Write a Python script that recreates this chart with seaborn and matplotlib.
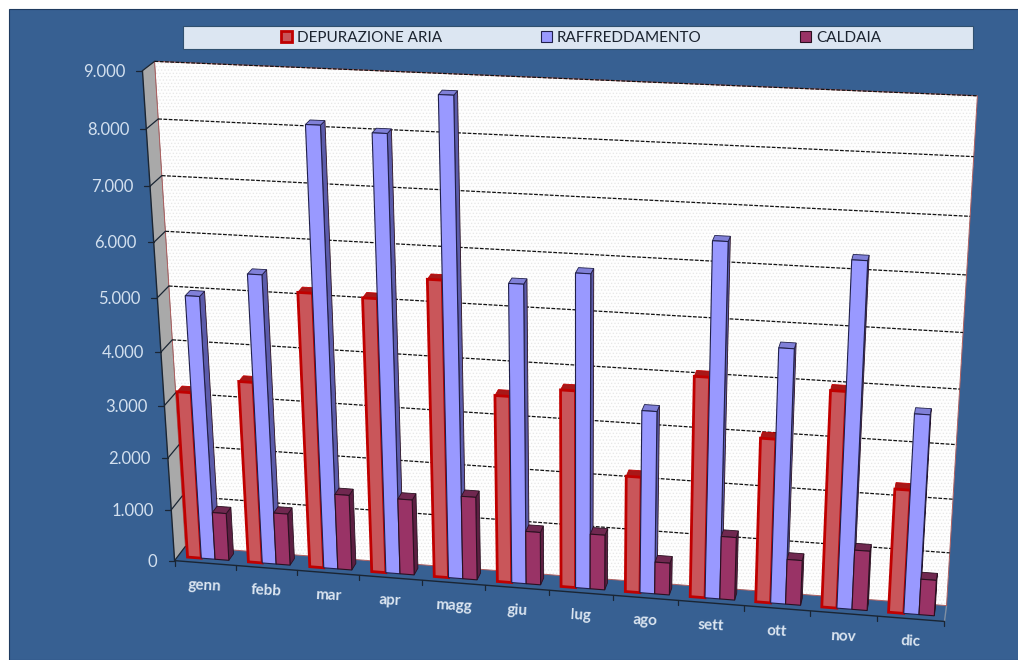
"""
3D-looking monthly column chart drawn with seaborn bars and a perspective transform.
"""

import matplotlib
matplotlib.use('Agg')
import matplotlib.pyplot as plt
import numpy as np
import pandas as pd
import seaborn as sns
from matplotlib.patches import Patch, Polygon, Rectangle
from matplotlib.transforms import Affine2D, Transform

W_PX, H_PX = 1018, 660

months = ['genn', 'febb', 'mar', 'apr', 'magg', 'giu', 'lug', 'ago', 'sett', 'ott', 'nov', 'dic']
series_names = ['DEPURAZIONE ARIA', 'RAFFREDDAMENTO', 'CALDAIA']
depurazione = [3200, 3470, 5180, 5150, 5550, 3520, 3700, 2190, 4100, 3060, 4000, 2300]
raffreddamento = [5000, 5460, 8150, 8060, 8760, 5560, 5810, 3420, 6500, 4700, 6300, 3680]
caldaia = [920, 1000, 1450, 1450, 1590, 1010, 1050, 610, 1190, 850, 1120, 670]
y_ticks = [0, 1000, 2000, 3000, 4000, 5000, 6000, 7000, 8000, 9000]

BLUE = '#376092'
FRONT = ['#c9565a', '#9999ff', '#993366']
EDGE = ['#c00000', '#20204a', '#2a1020']
SIDE = ['#8c1c1c', '#5c5cab', '#5c1f42']
CAP = ['#a81818', '#8080d8', '#702850']
EDGE_W = [2.0, 0.8, 0.8]

# where the corners of the chart box sit in the picture: (category, value, depth) -> pixel
BOX = [
    ((-0.5, 0, 0), (175, 560)), ((-0.5, 9000, 0), (142, 70)),
    ((11.5, 0, 0), (945, 622)), ((11.5, 9000, 0), (975, 107)),
    ((-0.5, 0, 1), (185, 547)), ((-0.5, 9000, 1), (155, 62)),
    ((11.5, 0, 1), (946, 605)), ((11.5, 9000, 1), (978, 95)),
]
BAR_W0, BAR_W1 = 0.30, 0.75


def fit_camera(box):
    rows = []
    for (x, v, w), (px, py) in box:
        p = [(x + 0.5) / 12, v / 9000, w, 1]
        rows.append(p + [0, 0, 0, 0] + [-px * c for c in p])
        rows.append([0, 0, 0, 0] + p + [-py * c for c in p])
    return np.linalg.svd(np.array(rows, dtype=float))[2][-1].reshape(3, 4)


CAMERA = fit_camera(BOX)


def project(x, v, w):
    x, v, w = [np.asarray(a, dtype=float) for a in (x, v, w)]
    p = np.stack([(x + 0.5) / 12, v / 9000, w, np.ones_like(x)], axis=-1)
    q = p @ CAMERA.T
    return q[..., :2] / q[..., 2:]


class DepthTransform(Transform):
    """Maps (category, value) on the plane at depth w to picture pixels."""
    input_dims = 2
    output_dims = 2
    is_separable = False
    has_inverse = False

    def __init__(self, w):
        super().__init__()
        self.w = w

    def transform_non_affine(self, values):
        values = np.asarray(values, dtype=float)
        return project(values[:, 0], values[:, 1], np.full(len(values), self.w))


sns.set_theme(style='white')
plt.rcParams['font.family'] = ['Lato', 'DejaVu Sans']
plt.rcParams['hatch.linewidth'] = 0.5

fig = plt.figure(figsize=(W_PX / 100, H_PX / 100), dpi=100, facecolor='white')
ax = fig.add_axes([0, 0, 1, 1])
ax.set_axis_off()

to_fig = Affine2D().scale(1 / W_PX, -1 / H_PX).translate(0, 1) + fig.transFigure
front_plane = DepthTransform(0) + to_fig
back_plane = DepthTransform(1) + to_fig
bar_plane = DepthTransform(BAR_W0) + to_fig


def add_poly(points, **kwargs):
    poly = Polygon(points, closed=True, transform=to_fig, clip_on=False, **kwargs)
    ax.add_patch(poly)
    return poly


# background
fig.patches.append(Rectangle((9 / W_PX, 0), 1, 1 - 9 / H_PX, transform=fig.transFigure,
                             facecolor=BLUE, edgecolor='#1f3a5f', lw=0.8, zorder=-5))

# legend band
fig.patches.append(Rectangle((183 / W_PX, 1 - 49 / H_PX), 790 / W_PX, 23 / H_PX,
                             transform=fig.transFigure, facecolor='#dce6f2',
                             edgecolor='#30506f', lw=0.8, zorder=-4))

# walls
corners = lambda x, w: project([x, x], [0, 9000], [w, w])
xl, xr = -0.5, 11.5
add_poly(np.vstack([corners(xl, 1), corners(xr, 1)[::-1]]), facecolor='#fefefe',
         edgecolor='#e6e6e6', hatch='.....', lw=0, zorder=1)
add_poly(np.vstack([corners(xl, 1), corners(xr, 1)[::-1]]), facecolor='none',
         edgecolor='#b06060', lw=0.7, zorder=1.1)
add_poly(np.vstack([corners(xl, 0), corners(xl, 1)[::-1]]), facecolor='#a9a9a9',
         edgecolor='#777777', lw=0.4, zorder=1)
ax.plot(*project([xr, xr], [0, 0], [0, 1]).T, color='#7f8fa3', lw=1, transform=to_fig,
        clip_on=False, zorder=1)

# grid, side wall lines and y axis
for tick in y_ticks:
    if tick > 0:
        ax.plot([xl, xr], [tick, tick], color='#111111', lw=0.9, ls=(0, (3, 1.2)),
                transform=back_plane, clip_on=False, zorder=2)
    ax.plot(*project([xl, xl], [tick, tick], [0, 1]).T, color='#1a2533', lw=0.9,
            transform=to_fig, clip_on=False, zorder=2)
    px, py = project(xl, tick, 0)
    ax.plot([px - 6, px], [py, py], color='#1a2533', lw=0.9, transform=to_fig,
            clip_on=False, zorder=2)
    label = f'{tick:,}'.replace(',', '.')
    ax.text(px - 17, py + 1, label, transform=to_fig, ha='right', va='center',
            fontsize=12, color='#d3e0ef', zorder=3)
ax.plot([xl, xl], [0, 9000], color='#1a2533', lw=1.0, transform=front_plane,
        clip_on=False, zorder=2)

# x axis
ax.plot([xl, xr], [0, 0], color='#1a2533', lw=1.0, transform=front_plane,
        clip_on=False, zorder=2)
for i in range(13):
    px, py = project(i - 0.5, 0, 0)
    ax.plot([px, px], [py, py + 5], color='#1a2533', lw=0.9, transform=to_fig,
            clip_on=False, zorder=2)
for i, month in enumerate(months):
    px, py = project(i, 0, 0)
    ax.text(px, py + 23, month, transform=to_fig, ha='center', va='center', rotation=-3,
            fontsize=11, fontweight='bold', color='#dce6f1', zorder=3)

# bars
df = pd.DataFrame({
    'mese': months * 3,
    'voce': np.repeat(series_names, 12),
    'valore': depurazione + raffreddamento + caldaia,
})
sns.barplot(data=df, x='mese', y='valore', hue='voce', order=months, hue_order=series_names,
            palette=FRONT, saturation=1, width=0.68, gap=0, legend=False, ax=ax)

for s, container in enumerate(ax.containers):
    for m, bar in enumerate(container.patches):
        x0, x1 = bar.get_x(), bar.get_x() + bar.get_width()
        v = bar.get_height()
        z = 10 + m * 3 + s * 0.3
        side = project([x1, x1, x1, x1], [0, v, v, 0], [BAR_W0, BAR_W0, BAR_W1, BAR_W1])
        cap = project([x0, x1, x1, x0], [v, v, v, v], [BAR_W0, BAR_W0, BAR_W1, BAR_W1])
        add_poly(side, facecolor=SIDE[s], edgecolor=EDGE[min(s + 1, 2)], lw=0.6, zorder=z)
        add_poly(cap, facecolor=CAP[s], edgecolor=EDGE[s], lw=0.6, zorder=z + 0.01)
        bar.set_transform(bar_plane)
        bar.set_clip_on(False)
        bar.set_edgecolor(EDGE[s])
        bar.set_linewidth(EDGE_W[s])
        bar.set_zorder(z + 0.02)

# legend
handles = [Patch(facecolor=FRONT[i], edgecolor=EDGE[i], linewidth=EDGE_W[i], label=series_names[i])
           for i in range(3)]
fig.legend(handles=handles, ncol=3, frameon=False, loc='center',
           bbox_to_anchor=(581 / W_PX, 1 - 37.5 / H_PX), fontsize=11,
           handlelength=0.72, handleheight=0.72, handletextpad=0.33, columnspacing=6.45,
           labelcolor='#1c2430')

ax.set_xlim(-0.5, 11.5)
ax.set_ylim(0, 9000)

fig.savefig('out.png', dpi=100, facecolor=fig.get_facecolor())
plt.close(fig)
